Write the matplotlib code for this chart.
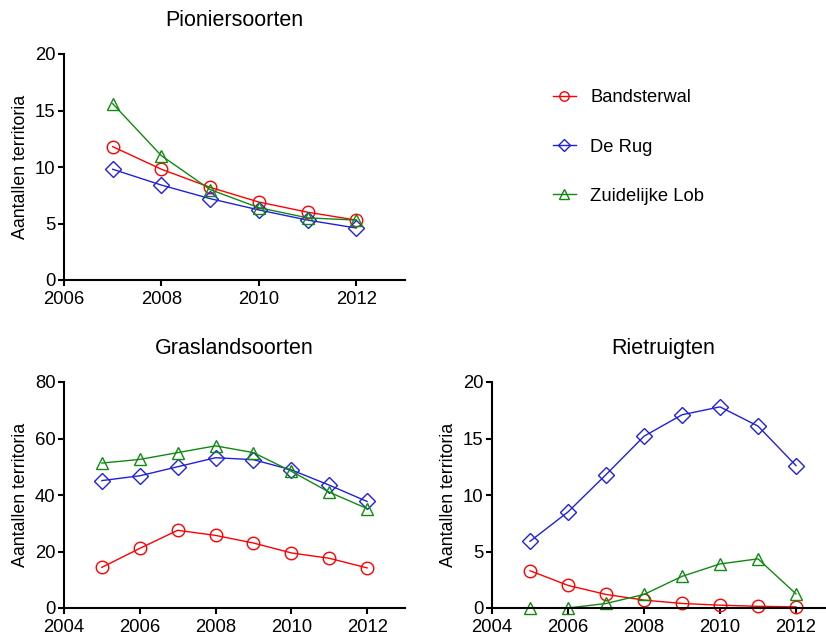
import matplotlib
matplotlib.use("Agg")
import matplotlib.pyplot as plt
from matplotlib.lines import Line2D

plt.rcParams['font.family'] = ['Liberation Sans', 'DejaVu Sans']

series_names = ["Bandsterwal", "De Rug", "Zuidelijke Lob"]

# Pioniersoorten
pion_years = [2007, 2008, 2009, 2010, 2011, 2012]
pion_band = [11.8, 9.8, 8.2, 6.9, 6.0, 5.3]
pion_rug = [9.8, 8.4, 7.2, 6.2, 5.3, 4.6]
pion_lob = [15.6, 11.0, 8.0, 6.4, 5.5, 5.3]

# Graslandsoorten
gras_years = [2005, 2006, 2007, 2008, 2009, 2010, 2011, 2012]
gras_band = [14.4, 21.1, 27.5, 25.7, 23.0, 19.5, 17.6, 14.2]
gras_rug = [45.1, 46.8, 50.0, 53.2, 52.5, 48.9, 43.5, 37.7]
gras_lob = [51.3, 52.6, 55.0, 57.4, 55.0, 48.4, 41.0, 35.2]

# Rietruigten
riet_years = [2005, 2006, 2007, 2008, 2009, 2010, 2011, 2012]
riet_band = [3.3, 2.0, 1.2, 0.7, 0.4, 0.25, 0.15, 0.1]
riet_rug = [5.9, 8.5, 11.8, 15.2, 17.1, 17.8, 16.1, 12.6]
riet_lob = [0.0, 0.0, 0.4, 1.2, 2.8, 3.9, 4.35, 1.25]

colors = ["#ff0000", "#2020dd", "#108a10"]
markers = ["o", "D", "^"]
msizes = [9, 8, 9]

W, H = 826, 637
fig = plt.figure(figsize=(W / 100, H / 100), dpi=100)

def px_axes(left, right, top, bottom):
    return fig.add_axes([left / W, (H - bottom) / H, (right - left) / W, (bottom - top) / H])

def style(ax, title, xlim, xticks, ylim, yticks):
    ax.set_xlim(*xlim)
    ax.set_ylim(*ylim)
    ax.set_xticks(xticks)
    ax.set_yticks(yticks)
    for s in ["top", "right"]:
        ax.spines[s].set_visible(False)
    for s in ["left", "bottom"]:
        ax.spines[s].set_linewidth(1.5)
        ax.spines[s].set_clip_on(False)
    ax.tick_params(direction="out", length=4, width=1.5, labelsize=13.3)
    ax.tick_params(axis="x", pad=4)
    ax.tick_params(axis="y", pad=2)
    ax.set_ylabel("Aantallen territoria", fontsize=12.8, labelpad=4)
    ax.set_title(title, fontsize=15.5, pad=20)

def plot_series(ax, years, ys):
    handles = []
    for y, c, m, ms, name in zip(ys, colors, markers, msizes, series_names):
        h, = ax.plot(years, y, color=c, marker=m, markersize=ms, markerfacecolor="none",
                     markeredgecolor=c, markeredgewidth=1.0, linewidth=1.0, label=name,
                     clip_on=False)
        handles.append(h)
    return handles

ax1 = px_axes(64, 405, 54, 280)
handles = plot_series(ax1, pion_years, [pion_band, pion_rug, pion_lob])
style(ax1, "Pioniersoorten", (2006, 2013), [2006, 2008, 2010, 2012], (0, 20), [0, 5, 10, 15, 20])

ax2 = px_axes(64, 405, 382, 608)
plot_series(ax2, gras_years, [gras_band, gras_rug, gras_lob])
style(ax2, "Graslandsoorten", (2004, 2013), [2004, 2006, 2008, 2010, 2012], (0, 80), [0, 20, 40, 60, 80])

ax3 = px_axes(492, 834, 382, 608)
plot_series(ax3, riet_years, [riet_band, riet_rug, riet_lob])
style(ax3, "Rietruigten", (2004, 2013), [2004, 2006, 2008, 2010, 2012], (0, 20), [0, 5, 10, 15, 20])

fig.legend(handles=handles, labels=series_names, loc="upper left",
           bbox_to_anchor=(536 / W, 1 - 73 / H), frameon=False, fontsize=13.2,
           markerscale=0.75, handlelength=1.3, handletextpad=0.75, labelspacing=1.75)

fig.savefig("out.png", dpi=100)
